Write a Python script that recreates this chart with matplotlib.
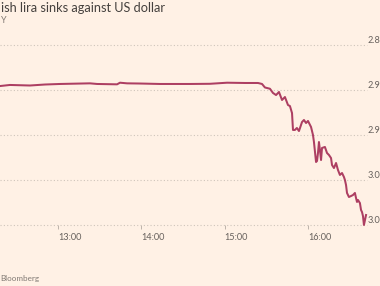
import matplotlib
matplotlib.use("Agg")
import matplotlib.pyplot as plt
from matplotlib import transforms

# ---- data (minutes after 12:00, USD/TRY) ----
minutes = [18.2, 25.4, 39.8, 50.6, 61.4, 83.0, 88.1, 102.5, 104.6, 109.7,
           119.0, 133.4, 155.0, 169.4, 181.7, 194.6, 204.0, 206.9, 209.0, 212.6,
           214.8, 217.0, 219.1, 221.3, 223.4, 225.6, 227.0, 228.5, 229.2, 230.6,
           232.0, 233.5, 235.7, 237.1, 238.6, 240.0, 242.2, 243.6, 244.3, 245.8,
           246.5, 247.2, 247.9, 248.6, 249.4, 250.1, 252.2, 253.7, 255.1, 256.6,
           257.3, 258.7, 260.2, 261.6, 263.0, 264.5, 265.9, 266.6, 267.4, 268.1,
           269.5, 271.0, 272.4, 273.8, 274.6, 275.3, 276.0, 277.4, 278.2, 278.9,
           279.6, 280.3, 281.8]
usd_try = [2.8956, 2.8944, 2.8950, 2.8939, 2.8933, 2.8926, 2.8933, 2.8937, 2.8919, 2.8926,
           2.8928, 2.8933, 2.8933, 2.8931, 2.8919, 2.8922, 2.8922, 2.8933, 2.8972, 2.8986,
           2.9033, 2.9056, 2.9022, 2.9111, 2.9078, 2.9167, 2.9178, 2.9256, 2.9444, 2.9444,
           2.9422, 2.9456, 2.9356, 2.9333, 2.9367, 2.9344, 2.9411, 2.9500, 2.9578, 2.9800,
           2.9789, 2.9700, 2.9578, 2.9667, 2.9778, 2.9644, 2.9633, 2.9700, 2.9722, 2.9756,
           2.9833, 2.9867, 2.9811, 2.9889, 2.9944, 2.9922, 2.9967, 3.0000, 3.0056, 3.0144,
           3.0189, 3.0178, 3.0167, 3.0144, 3.0200, 3.0244, 3.0222, 3.0256, 3.0333, 3.0356,
           3.0400, 3.0500, 3.0389]

x_ticks = [60, 120, 180, 240]
x_tick_labels = ["13:00", "14:00", "15:00", "16:00"]
y_ticks = [2.85, 2.90, 2.95, 3.00, 3.05]
# tick labels as they are visible in the (cropped) reference
y_tick_labels = ["2.8", "2.9", "2.9", "3.0", "3.0"]

title = "ish lira sinks against US dollar"
subtitle = "Y"
source = "Bloomberg"

# ---- style ----
bg = "#fff1e5"
line_c = "#ad3f62"
grid_c = "#cfc5bb"
label_c = "#66605c"
title_c = "#45413e"
plt.rcParams["font.family"] = ["Lato", "DejaVu Sans"]

W, H = 380, 286
fig = plt.figure(figsize=(W / 100, H / 100), dpi=100)
fig.patch.set_facecolor(bg)

top_px, bot_px, right_px = 45, 225, 367
ax = fig.add_axes([0, 1 - bot_px / H, right_px / W, (bot_px - top_px) / H])
ax.set_facecolor(bg)
ax.plot(minutes, usd_try, color=line_c, lw=1.45, solid_joinstyle="round", clip_on=False, zorder=3)
ax.set_xlim(18.2, 282.5)
ax.set_ylim(3.05, 2.85)

for s in ax.spines.values():
    s.set_visible(False)

ax.set_yticks(y_ticks)
ax.yaxis.grid(True, linestyle=(0, (1, 2)), color=grid_c, lw=0.8)
for gl in ax.get_ygridlines():
    gl.set_clip_on(False)
ax.tick_params(axis="y", length=0, labelleft=False, labelright=False)

trans = transforms.blended_transform_factory(ax.transAxes, ax.transData)
for v, lab in zip(y_ticks, y_tick_labels):
    ax.text(368 / right_px, v, lab, transform=trans, ha="left", va="bottom",
            fontsize=6.6, color=label_c, clip_on=False)

ax.set_xticks(x_ticks)
ax.set_xticklabels(x_tick_labels)
ax.tick_params(axis="x", length=3, width=0.6, color="#b3aaa1", pad=2.5,
               labelsize=6.6, labelcolor=label_c)
for t in ax.get_xticklabels():
    t.set_ha("left")

fig.text(1 / W, 1 - 8.5 / H, title, ha="left", va="center", fontsize=9.2, color=title_c)
fig.text(6.5 / W, 1 - 20.5 / H, subtitle, ha="right", va="center", fontsize=6.5, color="#807973")
fig.text(0.5 / W, 1 - 279 / H, source, ha="left", va="center", fontsize=5.8, color="#807973")

fig.savefig("out.png", dpi=100, facecolor=bg)
